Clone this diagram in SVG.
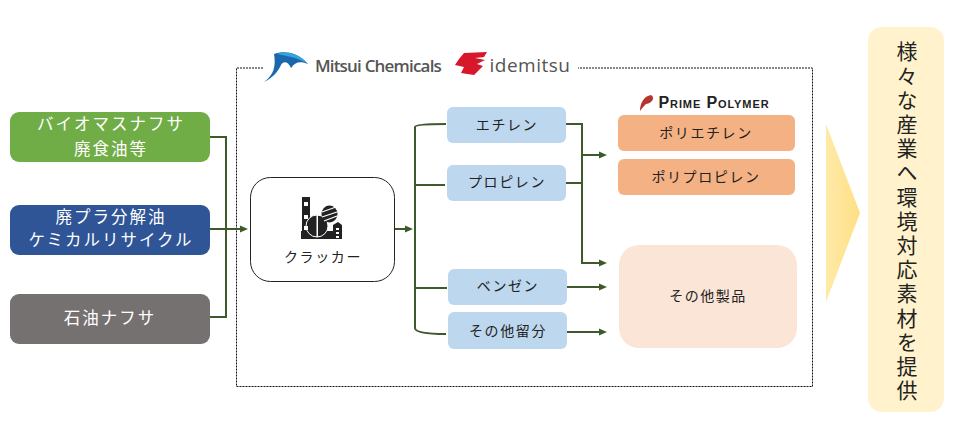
<svg xmlns="http://www.w3.org/2000/svg" width="960" height="428" viewBox="0 0 960 428">
<style>
text{font-family:"Noto Sans CJK JP","Noto Sans",sans-serif;text-anchor:middle}
.w{fill:#fff;font-size:16.500px;letter-spacing:2px}
.d{fill:#222;font-size:14px;letter-spacing:1.600px}
.c{fill:none;stroke:#3f5a2a;stroke-width:2}
.b{fill:#bdd7ee}
.o{fill:#f4b183}
</style>
<defs>
<marker id="a" markerWidth="9" markerHeight="8" refX="1" refY="4" orient="auto" markerUnits="userSpaceOnUse"><path d="M0,0.500L8,4L0,7.500Z" fill="#3f5a2a"/></marker>
<linearGradient id="g" x1="0" x2="1" y1="0" y2="0"><stop offset="0" stop-color="#ffeaa8"/><stop offset="1" stop-color="#ffdf85"/></linearGradient>
</defs>
<rect width="960" height="428" fill="#fff"/>
<g id="frame"><path d="M263,68H236.500V386.500H812.500V68H578" fill="none" stroke="#111" stroke-width="1" stroke-dasharray="2 1"/></g>
<g id="connectors">
<path class="c" d="M210,137H226V317H210"/>
<path class="c" d="M210,229H241" marker-end="url(#a)"/>
<path class="c" d="M395,229H406" marker-end="url(#a)"/>
<path class="c" d="M446,124Q415,124 415,127V328Q415,334 446,334"/>
<path class="c" d="M414,185H445"/>
<path class="c" d="M415,288H447"/>
<path class="c" d="M566,124H582V263H600" marker-end="url(#a)"/>
<path class="c" d="M566,183H582"/>
<path class="c" d="M582,155H600" marker-end="url(#a)"/>
<path class="c" d="M567,287H600" marker-end="url(#a)"/>
<path class="c" d="M566,332H600" marker-end="url(#a)"/>
</g>
<g id="logos">
<g id="logo-mitsui">
<path d="M264,82C274,75 276,66 274,54C283,51 296,51 308,64C300,61 295,62 291,68C288,61 283,61 281,65C278,72 272,78 264,82Z" fill="#1a67ad"/>
<path d="M277,54C285,51 297,52 308,64C301,60 296,58 287,56Z" fill="#35a3dc"/>
<text x="378" y="72" style="font-family:'Open Sans','Liberation Sans',sans-serif;font-size:17px;font-weight:600;letter-spacing:-0.800px" fill="#555">Mitsui Chemicals</text>
</g>
<g id="logo-idemitsu">
<path d="M459,59L464,53L487,52L484,57L475,58L485,60L477,64L483,66L474,75L461,73L464,67L455,65Z" fill="#d7182a"/>
<text x="530" y="72" style="font-family:'Open Sans','Liberation Sans',sans-serif;font-size:19px;letter-spacing:0.500px" fill="#555">idemitsu</text>
</g>
<g id="logo-prime">
<path d="M640,111C640,103 644,96 651,95C655,97 653,103 646,104C644,106 642,108 640,111Z" fill="#b5342c"/>
<text x="714" y="108" style="font-family:'Liberation Sans',sans-serif;font-size:16px;font-weight:700;font-variant:small-caps;letter-spacing:0.900px" fill="#222">Prime Polymer</text>
</g>
</g>
<g id="n-bio"><rect x="10" y="112" width="200" height="50" rx="9" fill="#70ad47"/><text class="w" x="111" y="130">バイオマスナフサ</text><text class="w" x="111" y="155">廃食油等</text></g>
<g id="n-plastic"><rect x="10" y="205" width="200" height="50" rx="9" fill="#2f5597"/><text class="w" x="111" y="223">廃プラ分解油</text><text class="w" x="111" y="246">ケミカルリサイクル</text></g>
<g id="n-naphtha"><rect x="10" y="294" width="200" height="50" rx="9" fill="#767171"/><text class="w" x="110" y="324">石油ナフサ</text></g>
<g id="n-cracker"><rect x="250.500" y="177.500" width="144" height="104" rx="20" fill="#fff" stroke="#222" stroke-width="1"/>
<path d="M302,197H310V231H302ZM301,231H342V239H301ZM333,225L338,222L342,225V239H333Z" fill="#222"/>
<circle cx="317" cy="226" r="11" fill="#222" stroke="#fff"/>
<path d="M316.500,215h1.500v22h-1.500z" fill="#fff"/>
<ellipse cx="329.500" cy="214" rx="8" ry="8.500" fill="#222"/>
<path d="M322,212L336,207M322,217L337,212M324,221L337,216" stroke="#fff" stroke-width="1.200"/>
<path d="M304,202h4v4h-4zM304,215h4v4h-4zM304,226h4v4h-4zM336,228h3v2h-3zM336,232h3v2h-3zM336,236h3v2h-3z" fill="#fff"/>
<text class="d" x="323" y="262">クラッカー</text></g>
<g id="n-ethylene"><rect class="b" x="447" y="107" width="119" height="36" rx="6"/><text class="d" x="507" y="130">エチレン</text></g>
<g id="n-propylene"><rect class="b" x="447" y="165" width="119" height="36" rx="6"/><text class="d" x="507" y="187">プロピレン</text></g>
<g id="n-benzene"><rect class="b" x="448" y="269" width="119" height="36" rx="6"/><text class="d" x="508" y="291">ベンゼン</text></g>
<g id="n-other"><rect class="b" x="448" y="312" width="119" height="37" rx="6"/><text class="d" x="508" y="336">その他留分</text></g>
<g id="n-pe"><rect class="o" x="618" y="115" width="177" height="36" rx="6"/><text class="d" x="706" y="138">ポリエチレン</text></g>
<g id="n-pp"><rect class="o" x="618" y="159" width="177" height="36" rx="6"/><text class="d" x="706" y="182">ポリプロピレン</text></g>
<g id="n-products"><rect x="619" y="245" width="178" height="103" rx="20" fill="#fbe5d6"/><text x="708" y="301" style="font-size:14px;letter-spacing:1.500px" fill="#222">その他製品</text></g>
<g id="chevron"><path d="M826,124L860,213L826,302Z" fill="url(#g)"/></g>
<g id="n-supply"><rect x="868" y="27" width="76" height="385" rx="14" fill="#fff2cc"/>
<text x="907" y="41" style="writing-mode:vertical-rl;text-anchor:start;font-size:21px;letter-spacing:3.200px" fill="#222">様々な産業へ環境対応素材を提供</text></g>
</svg>
